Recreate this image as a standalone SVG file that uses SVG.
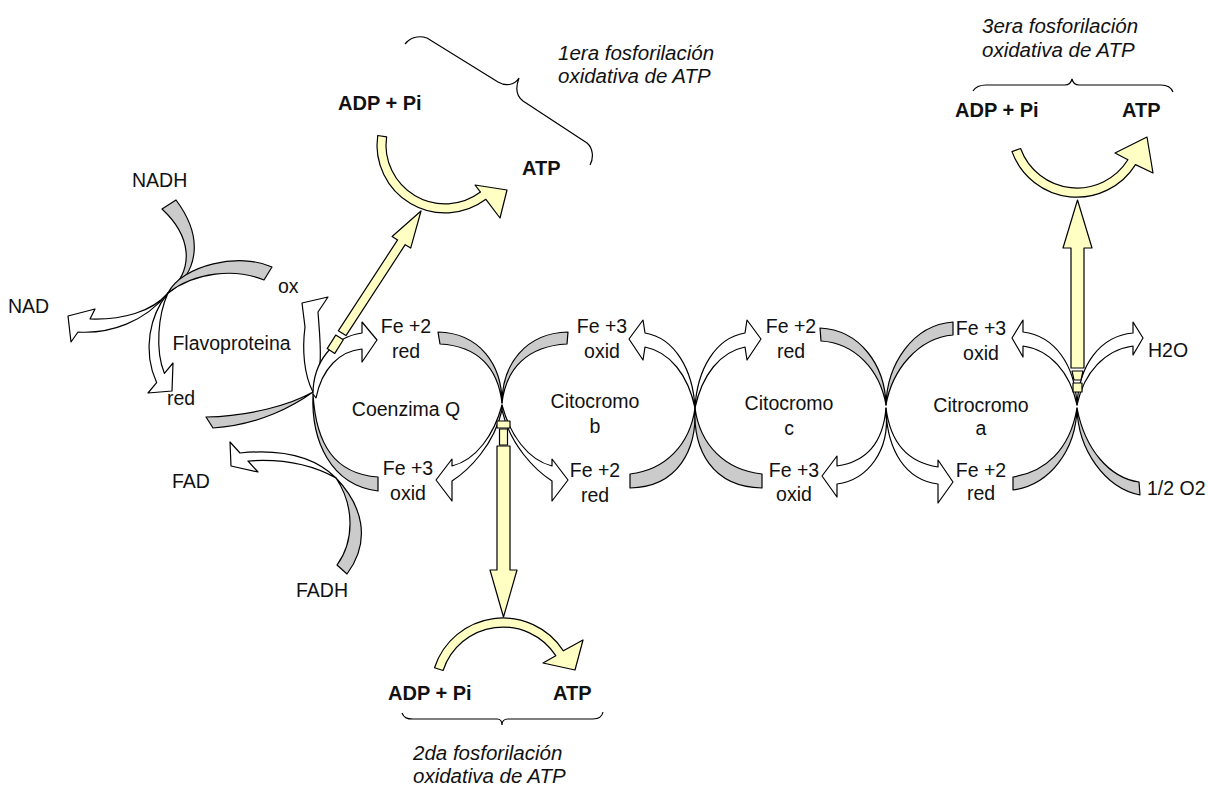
<svg xmlns="http://www.w3.org/2000/svg" width="1208" height="785" viewBox="0 0 1208 785">
<style>
.g{fill:#cbcbcb;stroke:#000;stroke-width:1.2;stroke-linejoin:round}
.w{fill:#fff;stroke:#000;stroke-width:1.2;stroke-linejoin:round}
.y{fill:#ffffc4;stroke:#000;stroke-width:1.2;stroke-linejoin:round}
.br{fill:none;stroke:#000;stroke-width:1.2}
text{font-family:"Liberation Sans",Arial,sans-serif;font-size:19.5px;fill:#111}
.b{font-weight:bold;font-size:20px}
.i{font-style:italic;font-size:20.5px}
.m{text-anchor:middle}
</style>
<rect width="1208" height="785" fill="#fff"/>

<g id="nad-cycle">
<path class="g" d="M168,293 C196,275 206,240 176,200 L162,209 C190,235 196,268 168,293 Z"/>
<path class="w" d="M168,293 C152,312 122,320 90,319 L95,309 L68,316 L71,342 L78,332 C110,334 145,322 168,293 Z"/>
<text x="132" y="187">NADH</text>
<text x="8" y="313">NAD</text>
</g>

<g id="flavoproteina">
<path class="g" d="M168,293 C182,265 240,252 272,267 L264,280 C235,268 195,272 168,293 Z"/>
<path class="w" d="M168,293 C150,315 142,350 156.6,382.6 L148,393 L172,391 L173,363 L164.4,373.4 C155,350 158,315 168,293 Z"/>
<path class="g" d="M313,392 C295,405 260,425 213,428 L206,417 C250,416 290,405 313,392 Z"/>
<path class="w" d="M313,392 C304,375 302,350 305,327 L302,303 L328,297 L318,312 C320,340 324,370 313,392 Z"/>
<text x="278" y="293">ox</text>
<text class="m" x="231.5" y="350">Flavoproteina</text>
<text x="167" y="405">red</text>
</g>

<g id="fad-cycle">
<path class="g" d="M336,478 C362,505 372,540 347,574 L337,565 C355,540 354,505 336,478 Z"/>
<path class="w" d="M336,478 C318,460 290,448 240,453 L230,442 L231,466 L258,472 L248,461 C290,458 318,468 336,478 Z"/>
<text x="172" y="488">FAD</text>
<text x="296" y="597">FADH</text>
</g>

<g id="coenzima-q">
<path class="g" d="M313,394 C311,440 330,485 378,491 L378,477 C335,474 316,445 313,394 Z"/>
<path class="w" d="M313,394 C313,362 333,337 362,333 L362,322 L377,340 L362,362 L362,349 C340,351 322,368 316,398 Z"/>
<path class="g" d="M502,403 C502,365 480,333 438,332 L440,344 C478,346 498,368 502,403 Z"/>
<path class="w" d="M502,405 C494,435 476,460 452,466 L452,459 L436,480 L452,501 L452,481 C469,470 494,445 502,410 Z"/>
<text class="m" x="406" y="416">Coenzima Q</text>
<text class="m" x="406" y="333">Fe +2</text>
<text class="m" x="406" y="358">red</text>
<text class="m" x="408" y="475">Fe +3</text>
<text class="m" x="408" y="500">oxid</text>
</g>

<g id="citocromo-b">
<path class="g" d="M502,403 C502,365 525,333 568,332 L567,344 C528,346 506,368 502,403 Z"/>
<path class="w" d="M502,405 C510,435 528,460 552,466 L552,459 L568,480 L552,501 L552,481 C535,470 510,445 502,410 Z"/>
<path class="w" d="M695,408 C693,370 675,338 645,333 L643,320 L629,339 L643,360 L645,347 C670,352 688,375 695,408 Z"/>
<path class="g" d="M695,408 C697,450 678,487 630,488 L630,474 C665,470 690,445 695,408 Z"/>
<text class="m" x="595" y="408">Citocromo</text>
<text class="m" x="595" y="433">b</text>
<text class="m" x="602" y="333">Fe +3</text>
<text class="m" x="602" y="358">oxid</text>
<text class="m" x="595" y="477">Fe +2</text>
<text class="m" x="595" y="502">red</text>
</g>

<g id="citocromo-c">
<path class="w" d="M695,408 C697,370 715,338 745,333 L747,320 L761,339 L747,360 L745,347 C720,352 702,375 695,408 Z"/>
<path class="g" d="M695,408 C693,450 712,487 762,488 L762,474 C725,470 700,445 695,408 Z"/>
<path class="g" d="M886,405 C885,365 860,330 820,328 L821,341 C855,343 880,370 886,405 Z"/>
<path class="w" d="M886,408 C883,445 865,462 837,466 L837,456 L822,476 L837,497 L837,484 C868,480 890,450 886,412 Z"/>
<text class="m" x="789" y="410">Citocromo</text>
<text class="m" x="789" y="435">c</text>
<text class="m" x="791" y="333">Fe +2</text>
<text class="m" x="791" y="358">red</text>
<text class="m" x="794" y="477">Fe +3</text>
<text class="m" x="794" y="501">oxid</text>
</g>

<g id="citocromo-a">
<path class="g" d="M886,405 C887,365 912,325 953,322 L953,335 C918,338 892,370 886,405 Z"/>
<path class="w" d="M886,408 C890,440 905,462 938,467 L938,460 L953,482 L938,503 L938,484 C905,480 888,450 886,412 Z"/>
<path class="w" d="M1077,405 C1075,365 1055,336 1023,332 L1023,320 L1012,338 L1023,357 L1023,346 C1050,350 1070,372 1077,405 Z"/>
<path class="g" d="M1077,408 C1076,450 1050,485 1013,490 L1013,477 C1045,472 1070,450 1077,408 Z"/>
<text class="m" x="981" y="412">Citrocromo</text>
<text class="m" x="981" y="435">a</text>
<text class="m" x="981" y="335">Fe +3</text>
<text class="m" x="981" y="360">oxid</text>
<text class="m" x="981" y="477">Fe +2</text>
<text class="m" x="981" y="500">red</text>
</g>

<g id="oxigeno">
<path class="w" d="M1077,405 C1079,365 1100,336 1133,333 L1133,322 L1143,338 L1133,355 L1133,346 C1105,350 1084,372 1077,405 Z"/>
<path class="g" d="M1077,408 C1078,450 1105,488 1140,495 L1139,482 C1110,478 1085,450 1077,408 Z"/>
<text x="1148" y="357">H2O</text>
<text x="1147" y="495">1/2 O2</text>
</g>

<g id="connectors">
<polygon class="y" points="327.2,348.6 335.7,335.1 343.3,339.8 334.8,353.4"/>
<polygon class="y" points="338.3,330.8 397.6,239.9 392.1,236.5 421,211 410.7,248.1 405.2,244.7 346,335.6"/>
<rect class="y" x="497" y="421" width="13" height="7"/>
<rect class="y" x="499.5" y="429" width="8" height="16"/>
<polygon class="y" points="497,446 510,446 510,570 517,570 503.5,617 490,570 497,570"/>
<polygon class="y" points="1071,368 1071,248 1063,248 1077.5,200 1092,248 1084,248 1084,368"/>
<polygon class="y" points="1072,371 1083,371 1081,380 1074,380"/>
<rect class="y" x="1073" y="383" width="9" height="9"/>
</g>

<g id="atp1">
<path class="y" d="M377.7,135.5 A68,68 0 0 0 485.9,199.3 L500,218 L507,190 L475,185 L480.5,192.1 A59,59 0 0 1 386.6,136.8 Z"/>
<path class="br" d="M405,44 C410,38 418,35 427,38 L498,82 C505,86 514,86 519,78 C516,86 515,95 523,101 L587,143 C593,148 594,158 590,165"/>
<text class="b" x="338" y="110">ADP + Pi</text>
<text class="b" x="522" y="175">ATP</text>
<text class="i" x="558" y="60">1era fosforilación</text>
<text class="i" x="558" y="83">oxidativa de ATP</text>
</g>

<g id="atp2">
<path class="y" d="M434.5,667.8 A72,72 0 0 1 563.4,650.8 L583,640 L575,670 L543,663 L555.8,655.7 A63,63 0 0 0 443.1,670.5 Z"/>
<path class="br" d="M402,713 C404,718 407,719 413,719 L497,719 C500,719 502,721 502,725 C502,721 504,719 508,719 L593,719 C599,719 602,717 603,712"/>
<text class="b" x="388" y="700">ADP + Pi</text>
<text class="b" x="553" y="700">ATP</text>
<text class="i" x="413" y="760">2da fosforilación</text>
<text class="i" x="413" y="783">oxidativa de ATP</text>
</g>

<g id="atp3">
<path class="y" d="M1012,151.6 A69,69 0 0 0 1135.5,164.6 L1153,173 L1147,137 L1115,153 L1127.9,159.8 A60,60 0 0 1 1020.6,148.5 Z"/>
<path class="br" d="M973,91 C976,86 980,85 986,85 L1065,85 C1069,85 1071,83 1072,79 C1073,83 1075,85 1079,85 L1161,85 C1167,85 1171,87 1173,92"/>
<text class="b" x="955" y="117">ADP + Pi</text>
<text class="b" x="1122" y="117">ATP</text>
<text class="i" x="982" y="33">3era fosforilación</text>
<text class="i" x="982" y="57">oxidativa de ATP</text>
</g>
</svg>
